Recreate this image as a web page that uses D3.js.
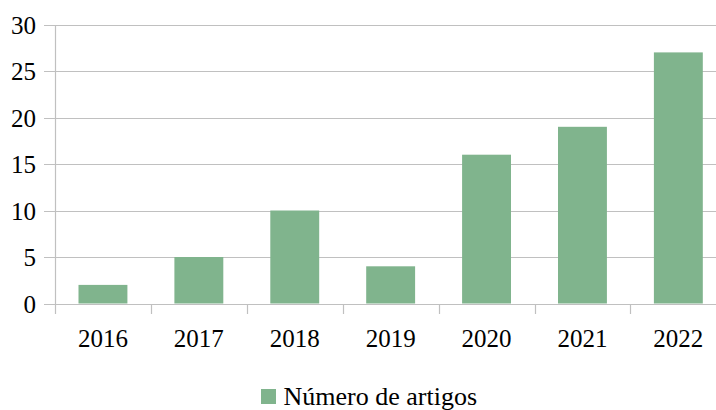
<!DOCTYPE html>
<html><head><meta charset="utf-8">
<script src="https://cdn.jsdelivr.net/npm/d3@7"></script>
<style>body{margin:0;background:#fff}svg{display:block}
svg text{font-family:"Liberation Serif","Tinos","Times New Roman","DejaVu Serif",serif;}</style>
</head><body>
<svg id="c" width="716" height="410"></svg>
<script>
const categories = ["2016","2017","2018","2019","2020","2021","2022"];
const values = [2,5,10,4,16,19,27];
const yTicks = [0,5,10,15,20,25,30];
const seriesName = "Número de artigos";

const svg = d3.select("#c");
const left = 55, bandW = 95.9, right = left + bandW*categories.length;
const x = d3.scaleBand().domain(categories).range([left, right]).paddingInner(0.49).paddingOuter(0.245);
const y = d3.scaleLinear().domain([0,30]).range([303.5, 24.5]);
const grid = "#c0c0c0";

svg.append("g").selectAll("line").data(yTicks).join("line")
  .attr("x1", 44).attr("x2", 716)
  .attr("y1", d=>Math.round(y(d))+0.5).attr("y2", d=>Math.round(y(d))+0.5)
  .attr("stroke", grid).attr("stroke-width", 1.2);
svg.append("line").attr("x1",55.5).attr("x2",55.5).attr("y1",Math.round(y(30))).attr("y2",314)
  .attr("stroke",grid).attr("stroke-width",1.2);
const bounds = d3.range(1, categories.length).map(i => left + bandW*i);
svg.append("g").selectAll("line").data(bounds).join("line")
  .attr("x1", d=>Math.round(d)+0.5).attr("x2", d=>Math.round(d)+0.5)
  .attr("y1", Math.round(y(0))).attr("y2", 314)
  .attr("stroke", grid).attr("stroke-width", 1.2);

svg.append("g").selectAll("rect").data(values).join("rect")
  .attr("x", (d,i)=>x(categories[i])).attr("width", x.bandwidth())
  .attr("y", d=>y(d)).attr("height", d=>y(0)-y(d))
  .attr("fill", "#80b48d");

svg.append("g").selectAll("text").data(yTicks).join("text")
  .attr("x", 36).attr("y", d=>y(d)+9).attr("text-anchor","end")
  .attr("font-size", 25).attr("fill","#000").text(d=>d);
svg.append("g").selectAll("text").data(categories).join("text")
  .attr("x", d=>x(d)+x.bandwidth()/2).attr("y", 346.5).attr("text-anchor","middle")
  .attr("font-size", 25).attr("fill","#000").text(d=>d);

const lg = svg.append("g");
lg.append("rect").attr("x",261).attr("y",389).attr("width",15).attr("height",15).attr("fill","#80b48d");
lg.append("text").attr("x",283.5).attr("y",405).attr("font-size",26)
  .attr("fill","#000").text(seriesName);
</script>
</body></html>
